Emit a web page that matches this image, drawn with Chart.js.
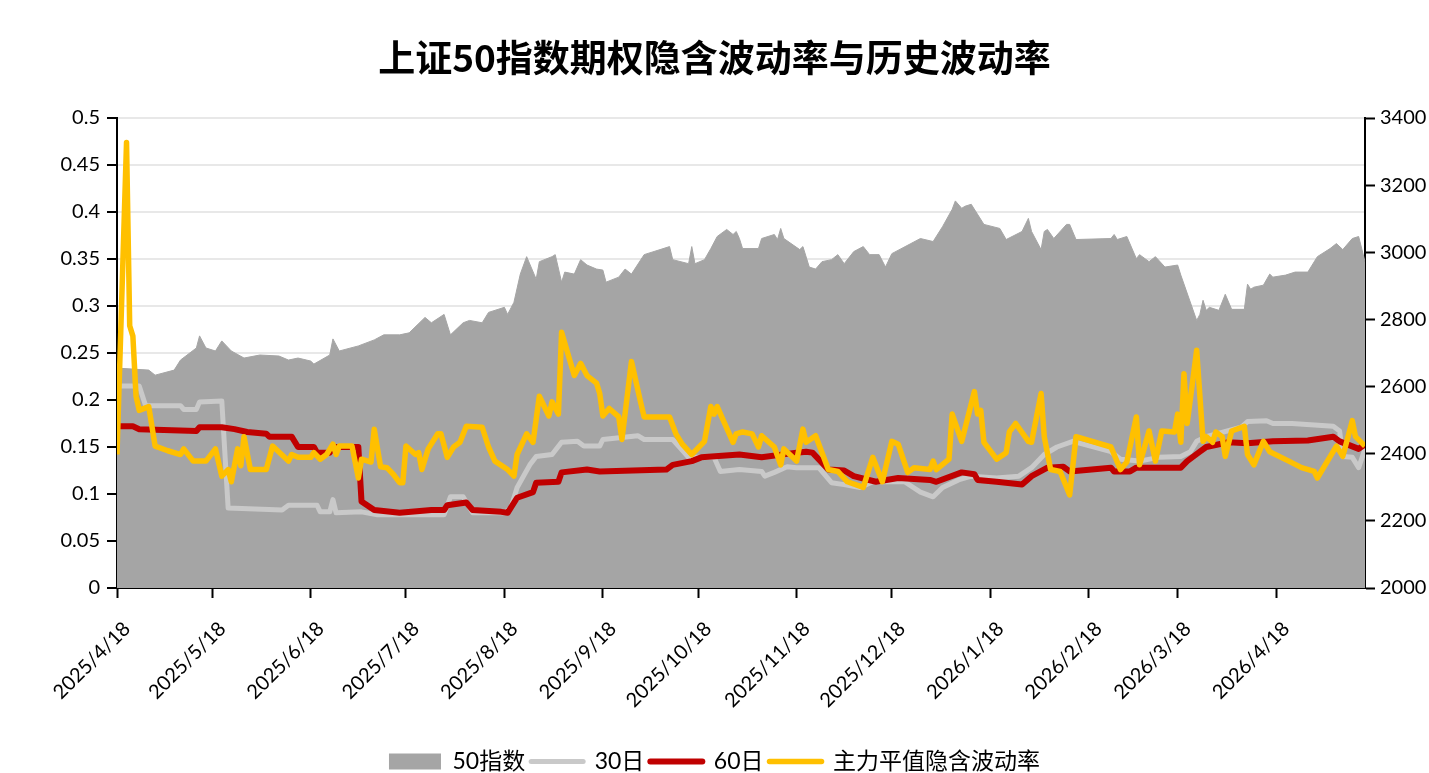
<!DOCTYPE html>
<html>
<head>
<meta charset="utf-8">
<title>上证50指数期权隐含波动率与历史波动率</title>
<script src="https://cdn.jsdelivr.net/npm/chart.js@4/dist/chart.umd.min.js"></script>
<style>
  html, body { margin: 0; padding: 0; background: #fff; }
  #wrap { width: 1429px; height: 773px; }
</style>
</head>
<body>
<div id="wrap"><canvas id="myChart"></canvas></div>
<script>
// x values are calendar days counted from 2025/4/18
const dateLabels = [
  '2025/4/18', '2025/5/18', '2025/6/18', '2025/7/18', '2025/8/18', '2025/9/18', '2025/10/18',
  '2025/11/18', '2025/12/18', '2026/1/18', '2026/2/18', '2026/3/18', '2026/4/18'
];
const lastDay = 393;

// 50指数 (right axis)
const idxDay = [0,10,12,18,20,25,26,28,31,33,36,40,45,51,54,57,61,62,67,68,70,76,81,84,89,92,97,99,103,105,109,111,115,117,122,123,125,127,129,132,133,137,138,140,141,144,146,148,151,153,154,158,160,162,166,174,175,180,181,182,185,187,189,192,194,195,196,197,202,203,207,208,209,210,215,216,218,220,222,225,227,229,232,235,237,240,242,244,250,253,257,260,263,264,266,267,269,273,278,280,285,287,288,291,292,293,295,299,300,302,313,314,315,318,321,322,325,327,330,334,335,340,341,342,343,344,347,349,351,355,356,357,358,361,363,364,368,371,375,378,382,384,386,389,391,393];
const idxVal = [2655,2649,2634,2649,2679,2715,2751,2715,2706,2736,2706,2685,2694,2691,2679,2685,2676,2667,2694,2742,2706,2721,2739,2754,2754,2760,2806,2790,2815,2754,2790,2797,2790,2821,2836,2815,2851,2935,2987,2920,2972,2987,2993,2911,2941,2935,2978,2962,2950,2947,2911,2926,2950,2935,2993,3017,2978,2966,3017,2966,2978,3011,3047,3068,3053,3062,3041,3011,3011,3041,3053,3038,3071,3041,3008,3017,2956,2950,2972,2978,2993,2966,3002,3017,2993,2993,2956,2996,3026,3041,3032,3077,3128,3153,3131,3137,3143,3083,3071,3038,3062,3101,3062,3008,3062,3068,3041,3083,3083,3038,3041,3053,3038,3047,2981,2993,2972,2987,2956,2962,2932,2797,2815,2857,2827,2836,2827,2875,2830,2830,2905,2890,2896,2902,2935,2926,2932,2941,2941,2987,3011,3026,3008,3041,3047,2972];

// 30日历史波动率
const hv30Day = [0,7,9,20,21,25,26,33,35,52,54,63,64,67,68,69,77,82,103,105,109,112,122,124,126,130,132,137,140,145,147,152,153,164,166,175,180,188,190,196,203,204,207,211,214,221,225,229,234,238,248,253,257,260,265,269,277,284,288,292,296,301,313,316,322,328,335,338,340,343,354,356,362,364,370,383,385,386,389,391,393];
const hv30Val = [0.215,0.215,0.194,0.194,0.19,0.19,0.198,0.199,0.085,0.083,0.088,0.088,0.081,0.081,0.094,0.080,0.081,0.078,0.078,0.097,0.097,0.080,0.080,0.085,0.107,0.131,0.140,0.142,0.155,0.156,0.151,0.151,0.158,0.162,0.158,0.158,0.139,0.139,0.124,0.126,0.124,0.119,0.123,0.129,0.128,0.128,0.112,0.110,0.107,0.113,0.113,0.102,0.097,0.107,0.115,0.119,0.117,0.119,0.128,0.142,0.150,0.156,0.145,0.137,0.135,0.139,0.140,0.145,0.156,0.161,0.171,0.177,0.178,0.175,0.175,0.172,0.167,0.140,0.139,0.128,0.148];

// 60日历史波动率
const hv60Day = [0,5,7,25,26,33,37,41,47,48,55,57,62,63,67,68,76,77,81,89,99,103,104,110,112,121,123,126,131,132,139,140,148,152,173,175,181,184,196,203,214,217,219,224,229,232,239,246,256,258,266,270,271,277,285,288,293,298,300,313,314,319,321,335,337,341,343,350,356,364,375,383,385,391,393];
const hv60Val = [0.172,0.172,0.169,0.167,0.171,0.171,0.169,0.166,0.164,0.161,0.161,0.150,0.150,0.144,0.144,0.150,0.150,0.092,0.083,0.080,0.083,0.083,0.088,0.091,0.083,0.081,0.080,0.096,0.102,0.112,0.113,0.123,0.126,0.124,0.126,0.131,0.135,0.139,0.142,0.139,0.144,0.145,0.144,0.126,0.125,0.119,0.113,0.117,0.115,0.113,0.123,0.121,0.115,0.113,0.110,0.119,0.128,0.129,0.124,0.128,0.124,0.124,0.128,0.128,0.135,0.145,0.150,0.155,0.154,0.156,0.157,0.161,0.156,0.148,0.153];

// 主力平值隐含波动率
const ivDay = [0,3,4,5,6,7,10,12,16,20,21,24,28,31,33,35,36,38,39,40,42,47,49,54,55,57,61,62,64,66,68,69,70,74,76,77,80,81,83,85,87,89,90,91,94,95,96,98,101,102,104,106,108,110,115,117,119,123,125,126,129,131,133,136,137,139,140,144,146,148,151,152,153,155,158,159,162,165,166,174,176,178,181,185,187,188,189,194,195,197,200,202,203,207,209,210,214,216,217,220,224,227,230,235,238,241,244,246,249,251,256,257,258,262,263,266,270,271,272,273,277,280,281,283,287,288,291,292,294,297,300,302,313,316,318,321,322,325,327,329,333,334,335,336,337,340,342,343,345,346,348,349,351,355,356,358,361,363,369,373,377,378,384,386,389,390,393];
const ivVal = [0.142,0.474,0.279,0.268,0.204,0.189,0.193,0.151,0.146,0.142,0.148,0.135,0.135,0.148,0.119,0.126,0.113,0.148,0.130,0.161,0.126,0.126,0.151,0.135,0.142,0.139,0.139,0.144,0.137,0.142,0.153,0.142,0.151,0.151,0.117,0.137,0.134,0.169,0.129,0.128,0.121,0.112,0.112,0.151,0.142,0.144,0.126,0.148,0.164,0.164,0.139,0.150,0.155,0.172,0.171,0.150,0.135,0.126,0.119,0.142,0.164,0.155,0.204,0.183,0.198,0.185,0.272,0.226,0.239,0.226,0.218,0.207,0.183,0.191,0.182,0.158,0.241,0.196,0.182,0.182,0.164,0.153,0.142,0.156,0.193,0.185,0.193,0.155,0.164,0.166,0.164,0.150,0.162,0.150,0.131,0.148,0.135,0.169,0.155,0.162,0.126,0.124,0.113,0.107,0.139,0.113,0.156,0.153,0.123,0.128,0.126,0.135,0.126,0.137,0.185,0.156,0.209,0.185,0.189,0.155,0.137,0.144,0.166,0.175,0.156,0.155,0.207,0.161,0.126,0.124,0.099,0.161,0.150,0.126,0.134,0.182,0.131,0.167,0.135,0.167,0.166,0.185,0.155,0.228,0.175,0.253,0.156,0.161,0.155,0.166,0.161,0.140,0.167,0.172,0.142,0.131,0.156,0.145,0.135,0.128,0.124,0.117,0.151,0.140,0.178,0.161,0.151];

const startDate = Date.UTC(2025, 3, 18);
function dayOf(label) {
  const p = label.split('/').map(Number);
  return Math.round((Date.UTC(p[0], p[1] - 1, p[2]) - startDate) / 86400000);
}
function pts(days, vals) {
  return days.map((d, i) => ({ x: d, y: vals[i] }));
}

Chart.defaults.font.family = "Lato, 'Noto Sans CJK SC', sans-serif";
Chart.defaults.font.size = 20;
Chart.defaults.color = '#000';

const axisBorder = { color: '#000', width: 2 };

const ctx = document.getElementById('myChart');
new Chart(ctx, {
  type: 'line',
  data: {
    datasets: [{
      label: '50指数',
      data: pts(idxDay, idxVal),
      yAxisID: 'y1',
      fill: 'start',
      backgroundColor: '#a5a5a5',
      borderColor: '#a5a5a5',
      borderWidth: 1,
      order: 4
    }, {
      label: '30日',
      data: pts(hv30Day, hv30Val),
      yAxisID: 'y',
      borderColor: '#c9c9c9',
      borderWidth: 5,
      fill: false,
      order: 3
    }, {
      label: '60日',
      data: pts(hv60Day, hv60Val),
      yAxisID: 'y',
      borderColor: '#c00000',
      borderWidth: 6,
      fill: false,
      order: 2
    }, {
      label: '主力平值隐含波动率',
      data: pts(ivDay, ivVal),
      yAxisID: 'y',
      borderColor: '#ffc000',
      borderWidth: 5.5,
      fill: false,
      order: 1
    }]
  },
  options: {
    animation: false,
    responsive: true,
    maintainAspectRatio: false,
    layout: { padding: { left: 0, right: 0, top: 0, bottom: -10 } },
    elements: {
      point: { radius: 0, hoverRadius: 0 },
      line: { tension: 0, borderJoinStyle: 'round' }
    },
    scales: {
      x: {
        type: 'linear',
        min: 0,
        max: lastDay,
        afterBuildTicks: axis => { axis.ticks = dateLabels.map(l => ({ value: dayOf(l) })); },
        afterFit: s => { s.height = 156; },
        border: axisBorder,
        grid: { drawOnChartArea: false, tickColor: '#000', tickWidth: 2, tickLength: 10 },
        ticks: {
          autoSkip: false,
          maxRotation: 45,
          minRotation: 45,
          padding: 19,
          labelOffset: 10,
          callback: (v, i) => dateLabels[i]
        }
      },
      y: {
        position: 'left',
        min: 0,
        max: 0.5,
        afterFit: s => { s.width = 117; },
        border: axisBorder,
        grid: { color: '#e8e8e8', lineWidth: 2, tickColor: '#000', tickWidth: 2, tickLength: 10 },
        ticks: { stepSize: 0.05, padding: 7, callback: v => String(+v.toFixed(2)) }
      },
      y1: {
        position: 'right',
        min: 2000,
        max: 3400,
        afterFit: s => { s.width = 64; },
        border: axisBorder,
        grid: { drawOnChartArea: false, tickColor: '#000', tickWidth: 2, tickLength: 10 },
        ticks: { stepSize: 200, padding: 5, callback: v => String(v) }
      }
    },
    plugins: {
      title: {
        display: true,
        text: '上证50指数期权隐含波动率与历史波动率',
        color: '#000',
        font: { family: "'Noto Sans CJK SC', sans-serif", size: 37, weight: 'bold', lineHeight: 1.2 },
        padding: { top: 36, bottom: 37.6 }
      },
      legend: {
        position: 'bottom',
        labels: {
          usePointStyle: true,
          pointStyleWidth: 52,
          boxHeight: 16,
          padding: 6,
          color: '#000',
          font: { size: 23 },
          generateLabels: chart => chart.data.datasets.map((ds, i) => ({
            text: ds.label,
            datasetIndex: i,
            fillStyle: ds.backgroundColor || ds.borderColor,
            strokeStyle: ds.borderColor,
            lineWidth: i === 0 ? 0 : ds.borderWidth,
            lineCap: 'round',
            pointStyle: i === 0 ? 'rect' : 'line',
            hidden: false
          }))
        }
      },
      tooltip: { enabled: false }
    }
  }
});
</script>
</body>
</html>
